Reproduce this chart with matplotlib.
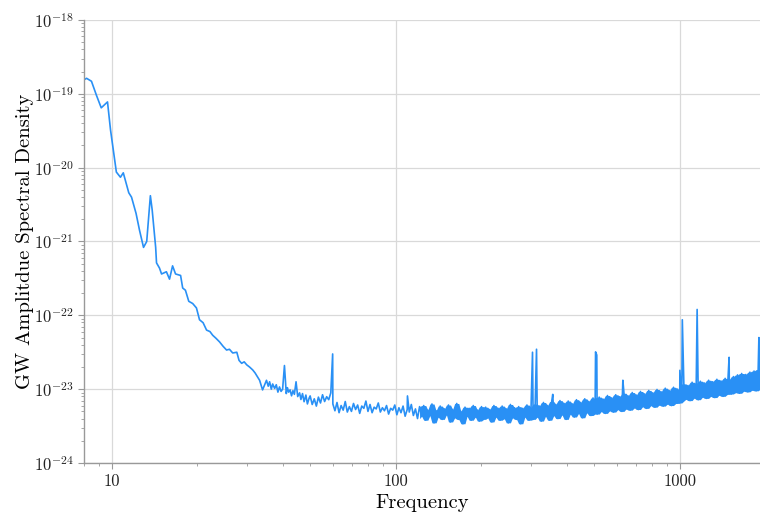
import numpy as np
import pandas as pd
import matplotlib as mpl
mpl.use('Agg')
import matplotlib.pyplot as plt
from matplotlib.ticker import FixedLocator, FixedFormatter, LogLocator, NullFormatter

plt.rcParams['font.family'] = ['cmr10', 'DejaVu Serif']
plt.rcParams['mathtext.fontset'] = 'cm'
plt.rcParams['axes.unicode_minus'] = False
plt.rcParams['axes.formatter.use_mathtext'] = True

# low frequency part of the spectrum (Hz, log10 of ASD)
low_freq = [8.0, 8.17, 8.5, 8.85, 9.2, 9.68, 9.92, 10.4, 10.75, 11.0, 11.5, 11.76,
            12.2, 12.55, 12.96, 13.3, 13.7, 13.9, 14.3, 14.4, 14.75, 15.0, 15.6,
            16.0, 16.4, 16.8, 17.5, 17.8, 18.2, 18.7, 19.3, 19.9, 20.4, 21.0, 21.6,
            22.2, 22.7, 23.3, 24.0, 24.7, 25.4, 26.0, 26.7, 27.6, 28.1, 28.7, 29.3,
            29.9, 30.6, 31.4, 32.0, 32.7, 33.2, 34.0, 35.1, 35.6, 36.0, 36.5, 36.9,
            37.5, 38.0, 38.5, 39.0, 39.5, 40.0, 40.6, 41.2, 41.6, 42.0, 42.5, 43.0,
            43.5, 44.0, 44.6, 45.2, 45.9, 46.4, 47.0, 47.6, 48.3, 48.9, 49.6]
low_log_asd = [-18.81, -18.79, -18.83, -19.02, -19.19, -19.11, -19.49, -20.06, -20.13,
               -20.07, -20.34, -20.40, -20.62, -20.85, -21.08, -21.00, -20.38, -20.57,
               -21.08, -21.29, -21.36, -21.44, -21.41, -21.51, -21.33, -21.44, -21.46,
               -21.63, -21.66, -21.81, -21.84, -21.90, -22.06, -22.10, -22.20, -22.22,
               -22.27, -22.31, -22.36, -22.42, -22.47, -22.46, -22.51, -22.50, -22.61,
               -22.65, -22.63, -22.67, -22.70, -22.74, -22.78, -22.84, -22.88, -23.01,
               -22.88, -22.96, -22.90, -23.00, -22.93, -22.99, -22.94, -23.04, -22.97,
               -23.03, -23.00, -22.68, -23.06, -22.98, -23.04, -23.01, -23.09, -23.02,
               -23.07, -22.90, -23.10, -23.05, -23.14, -23.06, -23.17, -23.08, -23.20,
               -23.12]

# noise floor from 50 Hz to 1950 Hz (units of 1e-24)
band_asd = [
    8.1, 6.2, 7.4, 5.9, 7.8, 6.5, 8.4, 6.8, 7.9, 7.2, 8.9,
    6.3, 5.1, 6.6, 4.8, 6.0, 5.2, 6.8, 4.9, 5.8, 5.0, 6.4, 5.3, 6.1, 4.7, 5.9,
    5.5, 6.9, 5.0, 6.2, 4.8, 5.7, 5.4, 6.5, 4.9, 5.6, 5.1, 6.0, 4.6, 5.5, 5.2, 6.1,
    4.5, 5.6, 4.8, 5.9, 4.3, 5.3, 4.9, 6.2, 4.4, 5.4, 4.0, 5.8, 4.3, 6.0, 3.8,
    5.2, 4.4, 6.3, 3.5, 5.1, 4.2, 5.9, 3.9, 5.4, 4.5, 6.1, 3.6, 5.3, 4.1, 6.4,
    3.9, 5.0, 3.4, 5.7, 4.3, 5.5, 3.8, 6.0, 4.2, 5.2, 3.7, 5.8,
    3.9, 5.7, 4.1, 5.3, 3.6, 6.0, 4.2, 5.5, 3.8, 5.9, 4.0, 5.4, 3.5, 6.2, 4.1,
    5.6, 3.9, 5.8, 3.4, 5.5, 4.2, 6.1, 3.8, 5.7,
    3.9, 6.3, 4.2, 5.9, 3.7, 6.6, 4.3, 6.0, 3.8, 6.8, 4.4, 6.2, 4.0, 7.0, 4.5,
    6.4, 3.9, 6.9, 4.6, 6.3, 4.2, 7.2, 4.7, 6.6, 4.1, 7.4, 4.8, 6.8, 4.4, 7.6, 4.9,
    4.6, 7.8, 5.0, 7.3, 4.7, 8.2, 5.1, 7.6, 4.9, 8.4, 5.3, 7.9, 5.0, 8.8, 5.4,
    8.1, 5.2, 9.0, 5.6, 8.3, 5.3, 9.3, 5.8, 8.6, 5.5, 9.6, 6.0, 8.9, 5.7, 9.9,
    6.1, 9.2, 5.9, 10.3, 6.3, 9.5, 6.0, 10.6, 6.4, 10.0, 6.5,
    6.9, 11.8, 7.3, 11.2, 7.0, 12.4, 7.6, 11.9, 7.2, 12.8, 7.8, 12.1, 7.5, 13.2,
    8.0, 12.6, 7.7, 13.6, 8.3, 12.9, 8.0, 14.0, 8.5, 13.5,
    8.6, 14.8, 9.0, 15.6, 8.8, 16.3, 9.4, 15.8, 9.2, 17.0, 9.7, 17.6, 9.5,
    18.4, 10.0, 19.0,
]

# narrow spectral lines (Hz, units of 1e-24)
line_freq = [60.0, 110.0, 303.0, 313.0, 357.0, 505.0, 510.0, 630.0, 1000.0, 1020.0,
             1150.0, 1490.0, 1897.0]
line_asd = [30.0, 8.1, 31.6, 34.7, 8.5, 32.0, 29.0, 13.2, 18.0, 87.0, 120.0, 27.0, 50.0]

blue = '#2990f5'


def main():
	band_freq = np.geomspace(50.0, 1950.0, len(band_asd))
	band = np.array(band_asd) * 1e-24
	freq = np.concatenate([low_freq, band_freq, line_freq])
	asd = np.concatenate([10.0 ** np.array(low_log_asd), band,
	                      np.array(line_asd) * 1e-24])
	order = np.argsort(freq)

	# the dense part of the spectrum reads as a solid band
	s = pd.Series(band)
	hi = s.rolling(3, center=True, min_periods=1).max().values
	lo = s.rolling(3, center=True, min_periods=1).min().values
	dense = band_freq >= 120

	fig = plt.figure(figsize=(7.6, 5.12), dpi=100)
	ax = fig.add_axes([0.1105, 0.0957, 0.8895, 0.8653])
	ax.fill_between(band_freq[dense], lo[dense], hi[dense], color=blue, lw=0)
	ax.loglog(freq[order], asd[order], color=blue, lw=1.2)
	ax.set_xlim(8, 1914)
	ax.set_ylim(1e-24, 1e-18)

	ax.xaxis.set_major_locator(FixedLocator([10, 100, 1000]))
	ax.xaxis.set_major_formatter(FixedFormatter(['10', '100', '1000']))
	ax.xaxis.set_minor_locator(LogLocator(base=10, subs=np.arange(2, 10)))
	ax.xaxis.set_minor_formatter(NullFormatter())
	ax.yaxis.set_major_locator(LogLocator(base=10, numticks=10))
	ax.yaxis.set_minor_locator(LogLocator(base=10, subs=np.arange(2, 10), numticks=20))
	ax.yaxis.set_minor_formatter(NullFormatter())

	ax.grid(True, which='major', color='#d9d9d9', lw=0.9)
	ax.set_axisbelow(True)
	for s in ('top', 'right'):
		ax.spines[s].set_visible(False)
	for s in ('left', 'bottom'):
		ax.spines[s].set_color('#999999')
		ax.spines[s].set_linewidth(1.0)
	ax.tick_params(which='major', length=4, color='#999999', labelsize=12,
	               labelcolor='#222222')
	ax.tick_params(which='minor', length=2, color='#999999')

	ax.set_xlabel('Frequency', fontsize=14.8, labelpad=4)
	ax.set_ylabel('GW Amplitdue Spectral Density', fontsize=14.8, labelpad=0)
	fig.savefig('out.png', dpi=100)


if __name__ == '__main__':
	main()
